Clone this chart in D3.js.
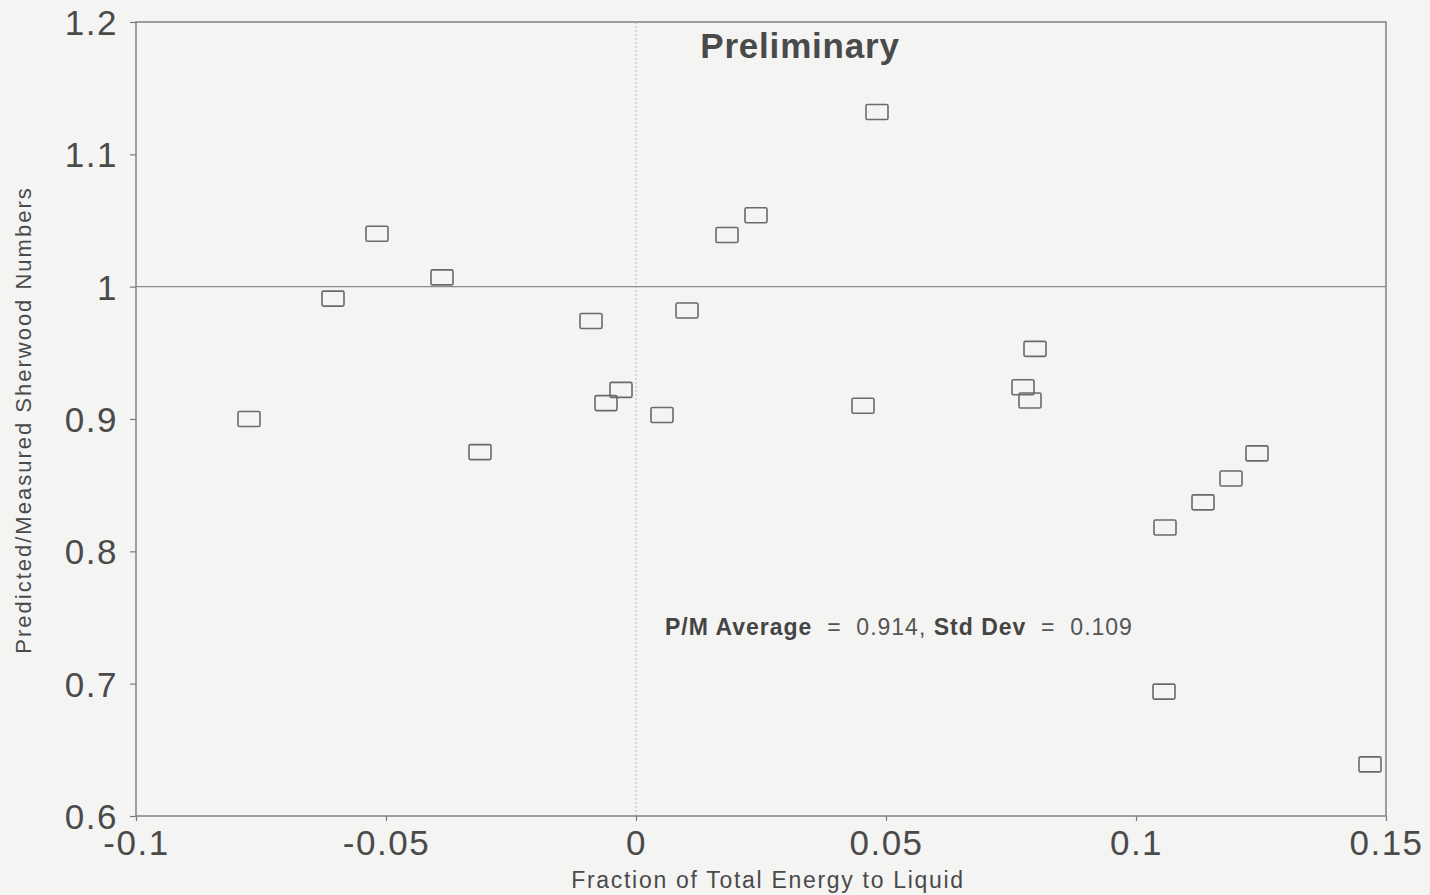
<!DOCTYPE html>
<html>
<head>
<meta charset="utf-8">
<script src="https://cdn.jsdelivr.net/npm/d3@7"></script>
<style>
  body { margin: 0; background: #f4f4f3; }
  svg { display: block; }
  text { font-family: "Liberation Sans", Arial, sans-serif; fill: #4a4a4a; }
</style>
</head>
<body>
<div id="chart"></div>
<script>
// energy fraction to liquid vs predicted/measured Sherwood number ratio
var energyFraction = [-0.0774, -0.0606, -0.0518, -0.0388, -0.0312, -0.0090, -0.0060, -0.0030,
    0.0052, 0.0102, 0.0182, 0.0240, 0.0454, 0.0482, 0.0774, 0.0788, 0.0798,
    0.1058, 0.1134, 0.1190, 0.1242, 0.1056, 0.1468];
var pmRatio = [0.900, 0.991, 1.040, 1.007, 0.875, 0.974, 0.912, 0.922,
    0.903, 0.982, 1.039, 1.054, 0.910, 1.132, 0.924, 0.914, 0.953,
    0.818, 0.837, 0.855, 0.874, 0.694, 0.639];
var xTicks = [-0.1, -0.05, 0, 0.05, 0.1, 0.15];
var xTickLabels = ["-0.1", "-0.05", "0", "0.05", "0.1", "0.15"];
var yTicks = [0.6, 0.7, 0.8, 0.9, 1.0, 1.1, 1.2];
var yTickLabels = ["0.6", "0.7", "0.8", "0.9", "1", "1.1", "1.2"];
var chartTitle = "Preliminary";
var noteParts = [["P/M Average", true], [" = 0.914, ", false], ["Std Dev", true], [" = 0.109", false]];

var width = 1430, height = 895;
var plotLeft = 136, plotRight = 1386, plotTop = 22, plotBottom = 816;

var svg = d3.select("#chart").append("svg")
    .attr("width", width)
    .attr("height", height);

var xScale = d3.scaleLinear().domain([-0.1, 0.15]).range([plotLeft, plotRight]);
var yScale = d3.scaleLinear().domain([0.6, 1.2]).range([plotBottom, plotTop]);

// frame
svg.append("rect")
    .attr("x", plotLeft).attr("y", plotTop)
    .attr("width", plotRight - plotLeft).attr("height", plotBottom - plotTop)
    .attr("fill", "none")
    .attr("stroke", "#7a7a7a")
    .attr("stroke-width", 1.4);

// zero line (dotted) and the 1.0 reference line
svg.append("line")
    .attr("x1", xScale(0)).attr("x2", xScale(0))
    .attr("y1", plotTop).attr("y2", plotBottom)
    .attr("stroke", "#b5b5b5")
    .attr("stroke-width", 1)
    .attr("stroke-dasharray", "2,2");

svg.append("line")
    .attr("x1", plotLeft).attr("x2", plotRight)
    .attr("y1", yScale(1)).attr("y2", yScale(1))
    .attr("stroke", "#8a8a8a")
    .attr("stroke-width", 1.2);

var xAxis = d3.axisBottom(xScale)
    .tickValues(xTicks)
    .tickFormat(function(d, i) { return xTickLabels[i]; })
    .tickSize(5)
    .tickPadding(9);

var yAxis = d3.axisLeft(yScale)
    .tickValues(yTicks)
    .tickFormat(function(d, i) { return yTickLabels[i]; })
    .tickSize(6)
    .tickPadding(12);

var gx = svg.append("g")
    .attr("transform", "translate(0," + plotBottom + ")")
    .call(xAxis);
var gy = svg.append("g")
    .attr("transform", "translate(" + plotLeft + ",0)")
    .call(yAxis);

[gx, gy].forEach(function(g) {
    g.select(".domain").remove();
    g.selectAll(".tick line").attr("stroke", "#7a7a7a").attr("stroke-width", 1.2);
    g.selectAll(".tick text")
        .attr("font-size", 35)
        .attr("letter-spacing", 1.5)
        .attr("font-family", "'Liberation Sans', Arial, sans-serif")
        .attr("fill", "#4a4a4a");
});
gx.selectAll(".tick text").attr("dy", "0.7em");
gy.selectAll(".tick text").attr("dy", "0.36em");

// markers
var points = energyFraction.map(function(x, i) { return { x: x, y: pmRatio[i] }; });
var boxW = 22, boxH = 15;
svg.append("g")
    .selectAll("rect")
    .data(points)
    .enter()
    .append("rect")
    .attr("x", function(d) { return xScale(d.x) - boxW / 2; })
    .attr("y", function(d) { return yScale(d.y) - boxH / 2; })
    .attr("width", boxW)
    .attr("height", boxH)
    .attr("rx", 1.5)
    .attr("fill", "none")
    .attr("stroke", "#6a6a6a")
    .attr("stroke-width", 1.6);

// title
svg.append("text")
    .attr("x", 800).attr("y", 58)
    .attr("text-anchor", "middle")
    .attr("font-size", 35)
    .attr("font-weight", "bold")
    .attr("letter-spacing", 0.8)
    .attr("fill", "#3e3e3e")
    .text(chartTitle);

// stats note
var note = svg.append("text")
    .attr("x", 665).attr("y", 635)
    .attr("font-size", 23)
    .attr("letter-spacing", 1.0)
    .attr("xml:space", "preserve");
noteParts.forEach(function(p) {
    note.append("tspan")
        .attr("font-weight", p[1] ? "bold" : "normal")
        .attr("fill", p[1] ? "#444" : "#555")
        .text(p[0].replace(/ = /g, "  =  "));
});

// axis titles
svg.append("text")
    .attr("x", 768).attr("y", 888)
    .attr("text-anchor", "middle")
    .attr("font-size", 23)
    .attr("letter-spacing", 1.7)
    .text("Fraction of Total Energy to Liquid");

svg.append("text")
    .attr("transform", "translate(31," + 420 + ") rotate(-90)")
    .attr("text-anchor", "middle")
    .attr("font-size", 22)
    .attr("letter-spacing", 2.0)
    .attr("fill", "#555")
    .text("Predicted/Measured Sherwood Numbers");
</script>
</body>
</html>
